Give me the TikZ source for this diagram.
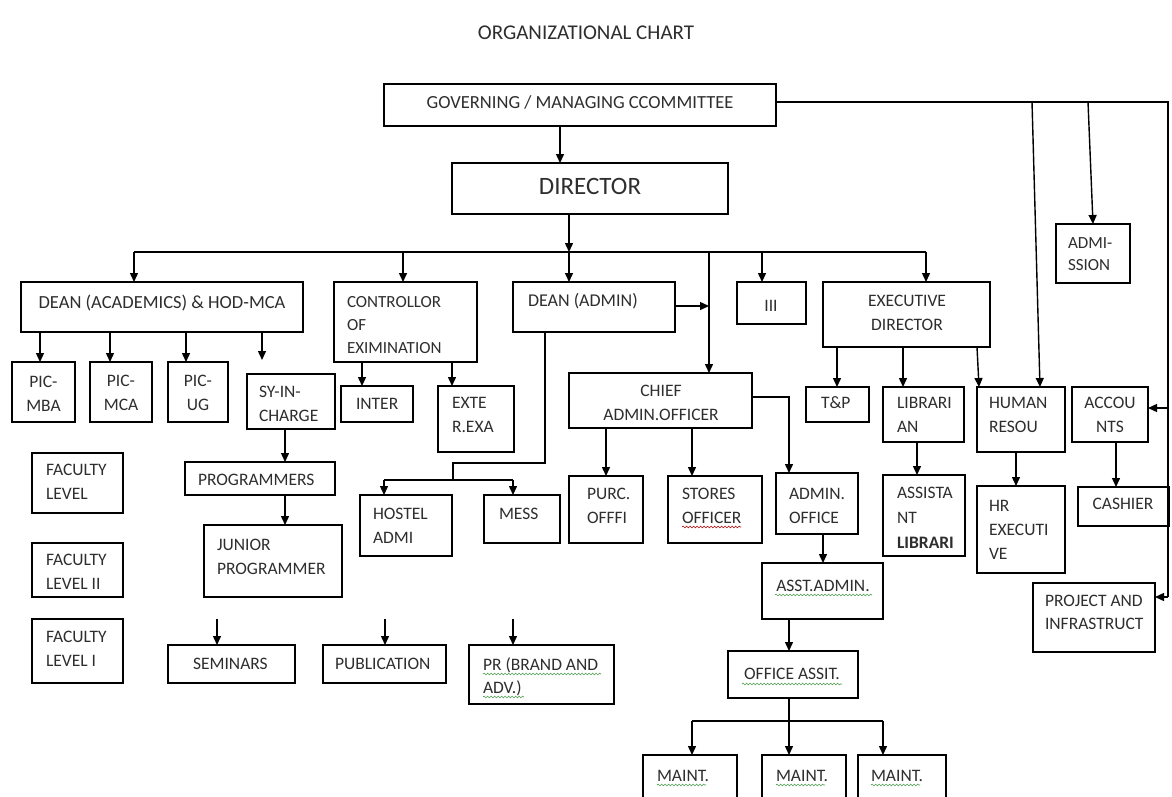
\documentclass[tikz,border=0pt]{standalone}
\usepackage{fontspec}
\setmainfont{Carlito}
\usetikzlibrary{arrows.meta,decorations.pathmorphing}
\newcommand{\Bx}[5]{\node[boxst, minimum width={#4-#2}, minimum height={#5-#3}] (#1) at ({(#2+#4)/2},{(#3+#5)/2}) {};}
\newcommand{\TxL}[5][]{\node[txt,anchor=base west,#1] (#2) at (#3,#4) {\begin{tabular}[t]{@{}l@{}}#5\end{tabular}};}
\newcommand{\TxC}[5][]{\node[txt,anchor=base,#1] (#2) at (#3,#4) {\begin{tabular}[t]{@{}c@{}}#5\end{tabular}};}
\begin{document}
\begin{tikzpicture}[x=1pt,y=-1pt,
  boxst/.style={draw=black, line width=1.4pt, inner sep=0pt, outer sep=0pt, rectangle},
  txt/.style={inner sep=0pt, outer sep=0pt, text=black!82, font=\fontsize{17.5}{24}\selectfont},
  arr/.style={line width=1.4pt, -{Triangle[length=9pt,width=8pt]}},
  ln/.style={line width=1.4pt},
  wavyr/.style={draw=red!70!black, line width=0.6pt, decorate, decoration={snake, amplitude=0.9pt, segment length=3.5pt}},
  wavyg/.style={draw=green!45!black!70, line width=0.6pt, decorate, decoration={snake, amplitude=0.9pt, segment length=3.5pt}}]
\useasboundingbox (0,0) rectangle (1172,796);
\clip (0,0) rectangle (1172,796);
\fill[white] (0,0) rectangle (1172,796);

% ---------- title ----------
\TxC[font=\fontsize{21}{26}\selectfont]{title}{586}{39}{ORGANIZATIONAL CHART}

% ---------- boxes ----------
\Bx{gov}{384}{84}{776}{126}
\Bx{dir}{452}{163}{728}{214}
\Bx{dacad}{21}{282}{303}{332}
\Bx{ctrl}{334}{282}{477}{362}
\Bx{dadmin}{513}{282}{675}{332}
\Bx{iii}{737}{282}{806}{324}
\Bx{exec}{823}{282}{990}{347}
\Bx{adm}{1056}{224}{1130}{283}
\Bx{picmba}{12}{362}{75}{422}
\Bx{picmca}{90}{362}{152}{422}
\Bx{picug}{168}{362}{228}{422}
\Bx{syin}{247}{374}{335}{429}
\Bx{prog}{185}{462}{335}{495}
\Bx{junior}{204}{525}{342}{597}
\Bx{fac}{32}{453}{123}{513}
\Bx{fac2}{32}{543}{123}{597}
\Bx{fac1}{32}{619}{123}{683}
\Bx{inter}{341}{386}{413}{422}
\Bx{exte}{438}{386}{514}{452}
\Bx{chief}{569}{373}{752}{428}
\Bx{hostel}{360}{495}{452}{556}
\Bx{mess}{484}{495}{560}{543}
\Bx{purc}{569}{476}{643}{543}
\Bx{stores}{668}{476}{762}{543}
\Bx{admoff}{776}{473}{858}{534}
\Bx{tp}{806}{387}{869}{422}
\Bx{libr}{883}{387}{964}{442}
\Bx{hr}{977}{387}{1065}{452}
\Bx{acc}{1072}{387}{1148}{442}
\Bx{cashier}{1078}{487}{1169}{526}
\Bx{asstlib}{883}{475}{965}{556}
\Bx{hrexec}{977}{486}{1065}{573}
\Bx{proj}{1033}{583}{1155}{652}
\Bx{asstadmin}{762}{563}{883}{619}
\Bx{offassit}{728}{651}{858}{698}
\Bx{maintA}{643}{755}{737}{812}
\Bx{maintB}{762}{755}{846}{812}
\Bx{maintC}{858}{755}{946}{812}
\Bx{sem}{168}{645}{295}{683}
\Bx{pub}{323}{645}{446}{683}
\Bx{pr}{469}{645}{614}{704}

% ---------- texts ----------
\TxC[font=\fontsize{18.5}{24}\selectfont]{t-gov}{580}{108}{GOVERNING / MANAGING CCOMMITTEE}
\TxC[font=\fontsize{25}{30}\selectfont]{t-dir}{590}{194}{DIRECTOR}
\TxC[font=\fontsize{18.5}{24}\selectfont]{t-dacad}{162}{308}{DEAN (ACADEMICS) \& HOD-MCA}
\TxL[font=\fontsize{17}{23}\selectfont]{t-ctrl}{347}{307}{CONTROLLOR\\OF\\EXIMINATION}
\TxL[font=\fontsize{18}{24}\selectfont]{t-dadmin}{528}{306}{DEAN (ADMIN)}
\TxC{t-iii}{771}{311}{III}
\TxC{t-exec}{907}{306}{EXECUTIVE\\DIRECTOR}
\TxL[font=\fontsize{17}{22}\selectfont]{t-adm}{1068}{248}{ADMI-\\SSION}
\TxC{t-picmba}{43.5}{387}{PIC-\\MBA}
\TxC{t-picmca}{121}{386}{PIC-\\MCA}
\TxC{t-picug}{198}{386}{PIC-\\UG}
\TxL{t-syin}{259}{397}{SY-IN-\\CHARGE}
\TxL{t-prog}{198}{485}{PROGRAMMERS}
\TxL{t-junior}{217}{550}{JUNIOR\\PROGRAMMER}
\TxL{t-fac}{46}{475}{FACULTY\\LEVEL}
\TxL{t-fac2}{46}{565}{FACULTY\\LEVEL II}
\TxL{t-fac1}{46}{642}{FACULTY\\LEVEL I}
\TxL{t-inter}{356}{409}{INTER}
\TxL{t-exte}{452}{408}{EXTE\\R.EXA}
\TxC{t-chief}{661}{396}{CHIEF\\ADMIN.OFFICER}
\TxL{t-hostel}{373}{519}{HOSTEL\\ADMI}
\TxL{t-mess}{499}{519}{MESS}
\TxL{t-purc}{587}{499}{PURC.\\OFFFI}
\TxL{t-stores}{682}{499}{STORES\\OFFICER}
\TxL{t-admoff}{789}{499}{ADMIN.\\OFFICE}
\TxL{t-tp}{821}{408}{T\&P}
\TxL{t-libr}{897}{408}{LIBRARI\\AN}
\TxL{t-hr}{989}{408}{HUMAN\\RESOU}
\TxC{t-acc}{1110}{408}{ACCOU\\NTS}
\TxC{t-cashier}{1123}{509}{CASHIER}
\TxL[font=\fontsize{17.5}{25}\selectfont]{t-asstlib}{897}{498}{ASSISTA\\NT\\\textbf{LIBRARI}}
\TxL{t-hrexec}{989}{511}{HR\\EXECUTI\\VE}
\TxL[font=\fontsize{17.5}{23}\selectfont]{t-proj}{1045}{606}{PROJECT AND\\INFRASTRUCT}
\TxC{t-asstadmin}{823}{591}{ASST.ADMIN.}
\TxC{t-offassit}{792}{679}{OFFICE ASSIT.}
\TxL{t-maintA}{657}{781}{MAINT.}
\TxL{t-maintB}{776}{781}{MAINT.}
\TxL{t-maintC}{871}{781}{MAINT.}
\TxL{t-sem}{193}{669}{SEMINARS}
\TxL{t-pub}{335}{669}{PUBLICATION}
\TxL[font=\fontsize{17.5}{23}\selectfont]{t-pr}{483}{670}{PR (BRAND AND\\ADV.)}

% ---------- spell-check underlines ----------
\draw[wavyr] (682,527) -- (741,527);
\draw[wavyg] (775,595) -- (872,595);
\draw[wavyg] (742,684) -- (842,684);
\draw[wavyg] (483,674) -- (601,674);
\draw[wavyg] (483,697) -- (524,697);
\draw[wavyg] (657,785) -- (706,785);
\draw[wavyg] (776,785) -- (825,785);
\draw[wavyg] (871,785) -- (920,785);

% ---------- connectors ----------
\draw[arr] (560,0 |- gov.south) -- (560,0 |- dir.north);
\draw[ln] ([yshift=3pt]gov.east) -- (1168,102) -- (1168,597);
\draw[arr] (1168,597) -- (proj.east |- 0,597);
\draw[arr] (1168,408) -- (acc.east |- 0,408);
\draw[arr] (1032,102) -- (1040,0 |- hr.north);
\draw[arr] (1088,102) -- (1093,0 |- adm.north);

\draw[arr] (569,0 |- dir.south) -- (569,252);
\draw[ln] (134,252) -- (926,252);
\draw[arr] (134,252) -- (134,0 |- dacad.north);
\draw[arr] (403,252) -- (403,0 |- ctrl.north);
\draw[arr] (569,252) -- (569,0 |- dadmin.north);
\draw[arr] (762,252) -- (762,0 |- iii.north);
\draw[arr] (926,252) -- (926,0 |- exec.north);
\draw[arr] (709,252) -- (709,0 |- chief.north);
\draw[arr] (dadmin.east |- 0,306) -- (709,306);

\draw[arr] (40,0 |- dacad.south) -- (40,0 |- picmba.north);
\draw[arr] (110,0 |- dacad.south) -- (110,0 |- picmca.north);
\draw[arr] (186,0 |- dacad.south) -- (186,0 |- picug.north);
\draw[arr] (262,0 |- dacad.south) -- (262,360);
\draw[arr] (285,0 |- syin.south) -- (285,0 |- prog.north);
\draw[arr] (285,0 |- prog.south) -- (285,0 |- junior.north);

\draw[arr] (362,0 |- ctrl.south) -- (362,0 |- inter.north);
\draw[arr] (452,0 |- ctrl.south) -- (452,0 |- exte.north);

\draw[ln] (545,0 |- dadmin.south) -- (545,463) -- (453,463) -- (453,480);
\draw[ln] (384,480) -- (513,480);
\draw[arr] (384,480) -- (384,0 |- hostel.north);
\draw[arr] (513,480) -- (513,0 |- mess.north);

\draw[arr] (606,0 |- chief.south) -- (606,0 |- purc.north);
\draw[arr] (692,0 |- chief.south) -- (692,0 |- stores.north);
\draw[arr] (chief.east |- 0,397) -- (789,397) -- (789,0 |- admoff.north);

\draw[arr] (837,0 |- exec.south) -- (837,0 |- tp.north);
\draw[arr] (903,0 |- exec.south) -- (903,0 |- libr.north);
\draw[arr] (977,0 |- exec.south) -- (979,0 |- hr.north);
\draw[arr] (917,0 |- libr.south) -- (917,0 |- asstlib.north);
\draw[arr] (1016,0 |- hr.south) -- (1016,0 |- hrexec.north);
\draw[arr] (1116,0 |- acc.south) -- (1116,0 |- cashier.north);

\draw[arr] (823,0 |- admoff.south) -- (823,0 |- asstadmin.north);
\draw[arr] (789,0 |- asstadmin.south) -- (789,0 |- offassit.north);
\draw[ln] (789,0 |- offassit.south) -- (789,721);
\draw[ln] (692,721) -- (883,721);
\draw[arr] (692,721) -- (692,0 |- maintA.north);
\draw[arr] (789,721) -- (789,0 |- maintB.north);
\draw[arr] (883,721) -- (883,0 |- maintC.north);

\draw[arr] (217,619) -- (217,0 |- sem.north);
\draw[arr] (385,619) -- (385,0 |- pub.north);
\draw[arr] (513,619) -- (513,0 |- pr.north);
\end{tikzpicture}
\end{document}
